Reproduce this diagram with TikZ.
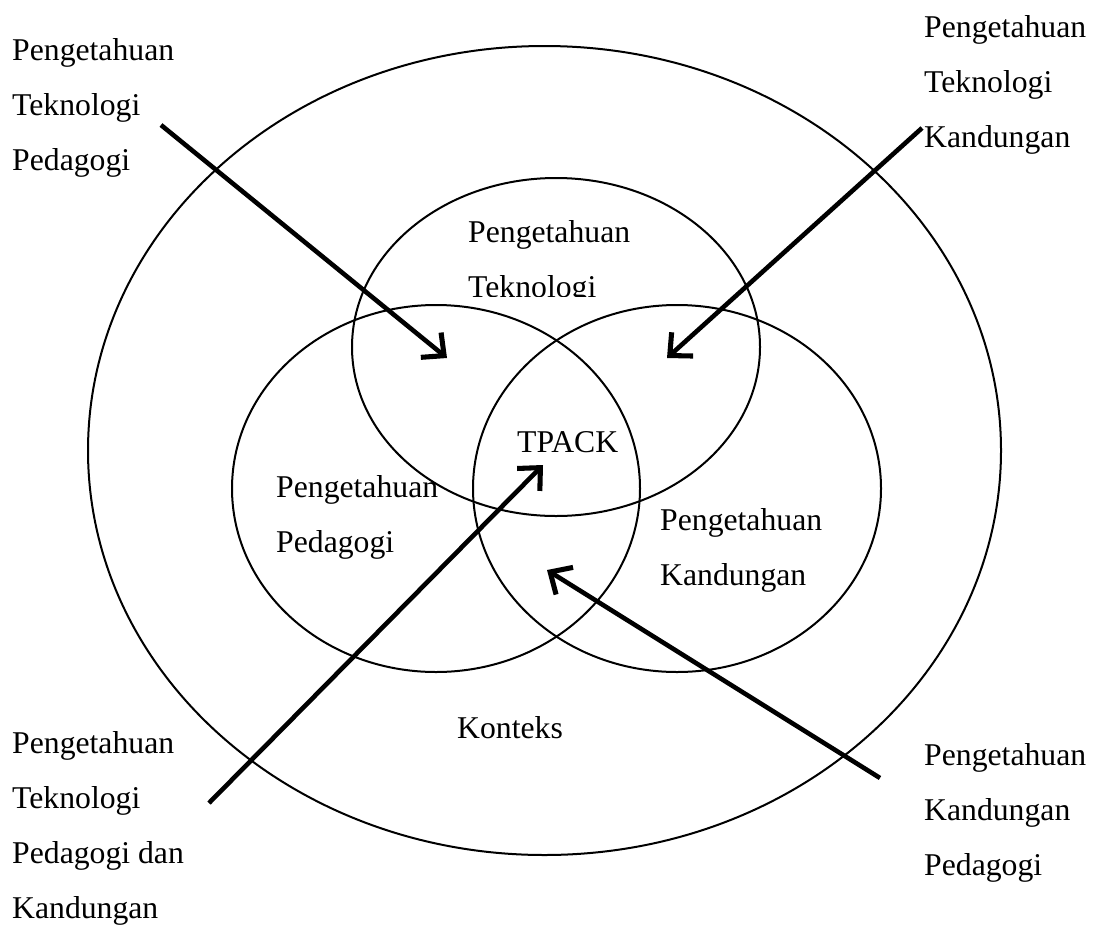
\documentclass[tikz,border=0pt]{standalone}
\usepackage{fontspec}
\setmainfont{Liberation Serif}
\usetikzlibrary{arrows.meta,positioning}
\tikzset{
    ring/.style={draw,line width=2pt},
    arr/.style={-{Straight Barb[length=17pt,width=32pt,line width=0pt 1.1]},line width=4.6pt},
    label text/.style={font=\fontsize{31.7}{55}\selectfont,align=left,inner sep=0pt,anchor=base west},
}

\begin{document}
\begin{tikzpicture}[x=1pt,y=-1pt]
        \useasboundingbox (0,0) rectangle (1099,924);
        \coordinate (Outer) at (544.5,450.5);
        \coordinate (Tech) at (556,347);
        \coordinate (Ped) at (436,488.5);
        \coordinate (Cont) at (677,488.5);

        \draw[ring] (Outer) ellipse [x radius=456.5pt, y radius=404.5pt];
        \draw[ring] (Tech) ellipse [x radius=204pt, y radius=169pt];
        \draw[ring] (Ped) ellipse [x radius=204pt, y radius=183.5pt];
        \draw[ring] (Cont) ellipse [x radius=204pt, y radius=183.5pt];

        \begin{scope}
            \clip (440,180) rectangle (660,296);
            \node[label text] (TechText) at (468,297) {Pengetahuan\\Teknologi};
        \end{scope}
        \node[label text] (PedText) at (276,552) {Pengetahuan\\Pedagogi};
        \node[label text] (ContText) at (660,585) {Pengetahuan\\Kandungan};
        \node[label text] (Tpack) at (517,452) {TPACK};
        \node[label text] (Konteks) at (457,738) {Konteks};

        \node[label text] (TpkText) at (12,170) {Pengetahuan\\Teknologi\\Pedagogi};
        \node[label text] (TckText) at (924,147) {Pengetahuan\\Teknologi\\Kandungan};
        \node[label text] (TpackText) at (12,918) {Pengetahuan\\Teknologi\\Pedagogi dan\\Kandungan};
        \node[label text] (PckText) at (924,875) {Pengetahuan\\Kandungan\\Pedagogi};

        \coordinate (TpkStart) at (161,125);
        \coordinate (TpkEnd) at (447,358);
        \coordinate (TckStart) at (922,128);
        \coordinate (TckEnd) at (667,358);
        \coordinate (TpackStart) at (209,803);
        \coordinate (TpackEnd) at (543,465);
        \coordinate (PckStart) at (880,778);
        \coordinate (PckEnd) at (547,570);

        \draw[arr] (TpkStart) -- (TpkEnd);
        \draw[arr] (TckStart) -- (TckEnd);
        \draw[arr] (TpackStart) -- (TpackEnd);
        \draw[arr] (PckStart) -- (PckEnd);
    \end{tikzpicture}
\end{document}
